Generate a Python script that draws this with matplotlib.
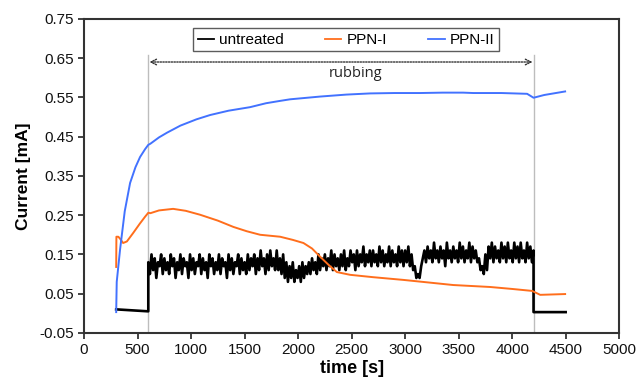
import numpy as np
import matplotlib
matplotlib.use("Agg")
import matplotlib.pyplot as plt

plt.rcParams['font.family'] = ['Liberation Sans', 'DejaVu Sans']

# PPN-II (blue)
blue_t = [300, 305, 336, 380, 430, 480, 523, 570, 600, 620, 700, 775, 900, 1050, 1178, 1350, 1551,
          1700, 1832, 1925, 2206, 2450, 2673, 2900, 3140, 3350, 3542, 3636, 3900, 4140, 4200, 4300, 4495]
blue_v = [0.003, 0.08, 0.162, 0.26, 0.332, 0.372, 0.398, 0.418, 0.429, 0.432, 0.448, 0.460, 0.478, 0.494, 0.505,
          0.516, 0.525, 0.535, 0.541, 0.545, 0.552, 0.557, 0.560, 0.561, 0.561, 0.562, 0.562, 0.561, 0.561, 0.559,
          0.549, 0.556, 0.565]

# PPN-I (orange)
orange_t = [300, 302, 320, 336, 365, 400, 460, 520, 570, 600, 620, 700, 832, 950, 1084, 1250, 1395, 1520, 1645,
            1832, 1950, 2050, 2130, 2206, 2290, 2362, 2486, 2700, 2985, 3200, 3449, 3795, 4000, 4187, 4262, 4495]
orange_v = [0.118, 0.195, 0.195, 0.19, 0.179, 0.183, 0.205, 0.228, 0.246, 0.256, 0.255, 0.262, 0.266, 0.261, 0.251,
            0.236, 0.220, 0.209, 0.200, 0.195, 0.187, 0.179, 0.165, 0.144, 0.122, 0.105, 0.098, 0.092, 0.085, 0.079,
            0.072, 0.067, 0.062, 0.057, 0.047, 0.049]

# untreated (black)
black_pre_t = [300, 600]
black_pre_v = [0.010, 0.005]
black_noise_v = [
    0.13, 0.10, 0.15, 0.11, 0.14, 0.09, 0.13, 0.12, 0.15, 0.10, 0.14, 0.11, 0.13, 0.10, 0.15, 0.12, 0.14, 0.09, 0.13, 0.11,
    0.15, 0.10, 0.14, 0.12, 0.13, 0.09, 0.15, 0.11, 0.14, 0.10, 0.13, 0.12, 0.15, 0.10, 0.14, 0.11, 0.13, 0.09, 0.15, 0.12,
    0.14, 0.10, 0.13, 0.11, 0.15, 0.10, 0.14, 0.12, 0.13, 0.09, 0.15, 0.11, 0.14, 0.10, 0.13, 0.12, 0.15, 0.10, 0.14, 0.11,
    0.13, 0.10, 0.15, 0.11, 0.14, 0.12, 0.15, 0.10, 0.14, 0.11, 0.16, 0.12, 0.14, 0.10, 0.15, 0.11, 0.16, 0.12, 0.14, 0.11,
    0.16, 0.11, 0.14, 0.10, 0.15, 0.09, 0.13, 0.08, 0.12, 0.09, 0.13, 0.08, 0.11, 0.09, 0.12, 0.08, 0.13, 0.09, 0.12, 0.10,
    0.13, 0.10, 0.14, 0.11, 0.13, 0.10, 0.15, 0.11, 0.14, 0.12, 0.15, 0.11, 0.14, 0.12, 0.16, 0.11, 0.15, 0.12, 0.14, 0.11,
    0.15, 0.12, 0.16, 0.11, 0.14, 0.12, 0.16, 0.13, 0.15, 0.11, 0.16, 0.12, 0.15, 0.13, 0.17, 0.12, 0.15, 0.13, 0.16, 0.12,
    0.16, 0.13, 0.15, 0.12, 0.17, 0.13, 0.16, 0.12, 0.15, 0.13, 0.17, 0.12, 0.16, 0.13, 0.15, 0.12, 0.17, 0.13, 0.16, 0.12,
    0.16, 0.13, 0.17, 0.12, 0.15, 0.11, 0.12, 0.09, 0.10, 0.09, 0.12, 0.14, 0.16, 0.13, 0.17, 0.14, 0.16, 0.13, 0.18, 0.14,
    0.16, 0.13, 0.17, 0.14, 0.16, 0.12, 0.18, 0.14, 0.16, 0.13, 0.17, 0.14, 0.16, 0.13, 0.18, 0.14, 0.17, 0.13, 0.16, 0.14,
    0.18, 0.13, 0.17, 0.14, 0.16, 0.13, 0.14, 0.11, 0.12, 0.10, 0.15, 0.11, 0.17, 0.14, 0.18, 0.13, 0.17, 0.14, 0.16, 0.13,
    0.18, 0.14, 0.17, 0.13, 0.18, 0.14, 0.16, 0.13, 0.18, 0.14, 0.17, 0.13, 0.18, 0.14, 0.16, 0.13, 0.18, 0.14, 0.17, 0.13,
    0.16]
black_noise_t = list(np.linspace(600, 4200, len(black_noise_v)))
black_post_t = [4200, 4500]
black_post_v = [0.003, 0.003]

black_t = black_pre_t + black_noise_t + black_post_t
black_v = black_pre_v + black_noise_v + black_post_v

rub_start, rub_end = 600, 4200

fig = plt.figure(figsize=(6.37, 3.84), dpi=100)
ax = fig.add_axes([0.132, 0.133, 0.840, 0.818])

ax.plot([rub_start, rub_start], [-0.05, 0.658], color='#bdbdbd', lw=1.0, zorder=1)
ax.plot([rub_end, rub_end], [-0.05, 0.658], color='#bdbdbd', lw=1.0, zorder=1)

ax.plot(black_t, black_v, color='black', lw=1.9, label='untreated', zorder=3)
ax.plot(orange_t, orange_v, color='#FF6E1C', lw=1.4, label='PPN-I', zorder=4)
ax.plot(blue_t, blue_v, color='#4272FF', lw=1.4, label='PPN-II', zorder=5)

ax.annotate('', xy=(rub_start + 10, 0.640), xytext=(rub_end - 10, 0.640),
            arrowprops=dict(arrowstyle='<->', color='#333333', lw=1.0, linestyle=(0, (1, 1)),
                            shrinkA=0, shrinkB=0, mutation_scale=10))
ax.text(2540, 0.612, 'rubbing', ha='center', va='center', fontsize=10.5,
        family=['Open Sans', 'DejaVu Sans'], color='#222222')

ax.set_xlim(0, 5000)
ax.set_ylim(-0.05, 0.75)
ax.set_xticks(np.arange(0, 5001, 500))
ax.set_yticks([-0.05, 0.05, 0.15, 0.25, 0.35, 0.45, 0.55, 0.65, 0.75])
ax.set_yticklabels(['-0.05', '0.05', '0.15', '0.25', '0.35', '0.45', '0.55', '0.65', '0.75'])
ax.tick_params(axis='both', labelsize=11, direction='out', length=4, width=1.2, colors='#222222')
for lab in ax.get_xticklabels() + ax.get_yticklabels():
    lab.set_color('#111111')
for sp in ax.spines.values():
    sp.set_linewidth(1.5)
    sp.set_color('#333333')

ax.set_xlabel('time [s]', fontsize=13, fontweight='bold', labelpad=2)
ax.set_ylabel('Current [mA]', fontsize=12.5, fontweight='bold', labelpad=6)

leg = ax.legend(loc='center', bbox_to_anchor=(0.49, 0.933), ncol=3, fontsize=11,
                frameon=True, fancybox=False, edgecolor='#333333', handlelength=1.05,
                columnspacing=2.7, handletextpad=0.35, borderpad=0.3, borderaxespad=0)
leg.get_frame().set_linewidth(1.0)
for h in leg.get_lines():
    h.set_linewidth(1.3)

fig.savefig('out.png', dpi=100)
